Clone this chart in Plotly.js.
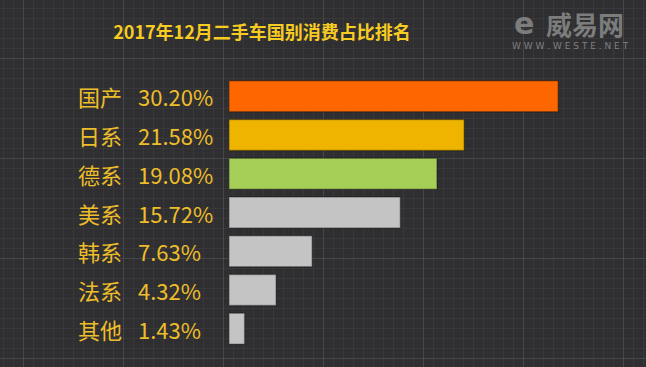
<!DOCTYPE html>
<html><head><meta charset="utf-8">
<script src="https://cdn.plot.ly/plotly-3.0.1.min.js"></script>
<style>
html,body{margin:0;padding:0;width:646px;height:367px;overflow:hidden;}
body{background-color:#2f2f31;
background-image:
 linear-gradient(to right, rgba(90,110,110,0.3) 1px, transparent 1px),
 linear-gradient(to bottom, rgba(90,110,110,0.3) 1px, transparent 1px),
 linear-gradient(to right, rgba(62,62,64,0.6) 1px, transparent 1px),
 linear-gradient(to bottom, rgba(62,62,64,0.6) 1px, transparent 1px);
background-size:100px 100px,100px 100px,10px 10px,10px 10px;
background-position:23px 58px,23px 58px,3px 8px,3px 8px;}
#chart{width:646px;height:367px;}
</style></head>
<body><div id="chart"></div>
<script>
var categories = ["国产","日系","德系","美系","韩系","法系","其他"];
var shares = [30.20, 21.58, 19.08, 15.72, 7.63, 4.32, 1.43];
var shareLabels = ["30.20%","21.58%","19.08%","15.72%","7.63%","4.32%","1.43%"];
var barColors = ["#fe6600","#eeb400","#a6cf58","#c4c4c4","#c4c4c4","#c4c4c4","#c4c4c4"];
var titleText = "2017年12月二手车国别消费占比排名";

var font = "Noto Sans CJK SC, Noto Sans, sans-serif";
var labelColor = "#edbd2a";

var trace = {
  type: "bar", orientation: "h",
  x: shares, y: categories,
  marker: {color: barColors, line: {color: "rgba(0,0,0,0.3)", width: 1.5}},
  hoverinfo: "none"
};

var annotations = [];
categories.forEach(function(c, i){
  annotations.push({xref:"paper", yref:"y", x:(76-229)/417, y:c, text:c, showarrow:false,
    xanchor:"left", yanchor:"middle", font:{family:font, size:22, color:labelColor}});
  annotations.push({xref:"paper", yref:"y", x:(136-229)/417, y:c, text:shareLabels[i], showarrow:false,
    xanchor:"left", yanchor:"middle", font:{family:font, size:22, color:labelColor}});
});
annotations.push({xref:"paper", yref:"paper", x:(585-229)/417, y:(348-23)/271, text:"<b>威易网</b>",
  showarrow:false, xanchor:"center", yanchor:"middle", font:{family:font, size:26, color:"rgba(150,150,150,0.75)"}});
annotations.push({xref:"paper", yref:"paper", x:(524-229)/417, y:(348-23)/271, text:"<b>e</b>",
  showarrow:false, xanchor:"center", yanchor:"middle", font:{family:"DejaVu Sans", size:30, color:"rgba(150,150,150,0.75)"}});
annotations.push({xref:"paper", yref:"paper", x:(570-229)/417, y:(348-46)/271, text:"W W W . W E S T E . N E T",
  showarrow:false, xanchor:"center", yanchor:"middle", font:{family:"DejaVu Sans", size:9, color:"rgba(150,150,150,0.8)"}});

var layout = {
  width: 646, height: 367,
  margin: {l:229, r:0, t:77, b:19, pad:0},
  paper_bgcolor: "rgba(0,0,0,0)", plot_bgcolor: "rgba(0,0,0,0)",
  showlegend: false, bargap: 0.2,
  title: {text: titleText, x: 262/646, xref: "container", xanchor: "center",
    y: 1-33/367, yref: "container", yanchor: "middle",
    font: {family: font, size: 18, color: "#f7cc22", weight: "bold"}},
  xaxis: {range:[0, 417/10.9], visible:false, fixedrange:true},
  yaxis: {autorange:"reversed", showticklabels:false, showgrid:false, zeroline:false, showline:false, ticks:"", fixedrange:true},
  annotations: annotations
};
Plotly.newPlot("chart", [trace], layout, {displayModeBar:false, staticPlot:true});
</script></body></html>
